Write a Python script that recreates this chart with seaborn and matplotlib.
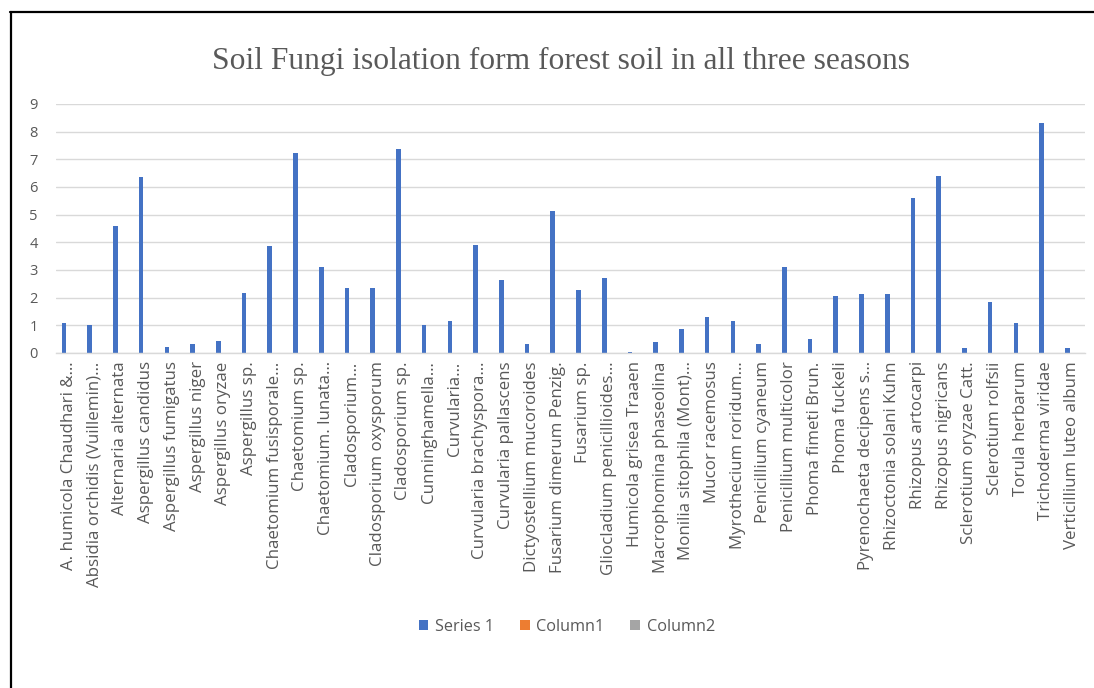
import matplotlib
matplotlib.use("Agg")
import matplotlib.pyplot as plt
from matplotlib.lines import Line2D
from matplotlib.patches import Patch
import numpy as np
import pandas as pd
import seaborn as sns

# Fungal species isolated from forest soil
fungi = [
    "A. humicola Chaudhari &…",
    "Absidia orchidis (Vuillemin)…",
    "Alternaria alternata",
    "Aspergillus candidus",
    "Aspergillus fumigatus",
    "Aspergillus niger",
    "Aspergillus oryzae",
    "Aspergillus sp.",
    "Chaetomium fusisporale…",
    "Chaetomium sp.",
    "Chaetomium. lunata…",
    "Cladosporium…",
    "Cladosporium oxysporum",
    "Cladosporium sp.",
    "Cunninghamella…",
    "Curvularia…",
    "Curvularia brachyspora…",
    "Curvularia pallascens",
    "Dictyostellium mucoroides",
    "Fusarium dimerum Penzig.",
    "Fusarium sp.",
    "Gliocladium penicillioides…",
    "Humicola grisea Traaen",
    "Macrophomina phaseolina",
    "Monilia sitophila (Mont)…",
    "Mucor racemosus",
    "Myrothecium roridum…",
    "Penicillium cyaneum",
    "Penicillium multicolor",
    "Phoma fimeti Brun.",
    "Phoma fuckeli",
    "Pyrenochaeta decipens s…",
    "Rhizoctonia solani Kuhn",
    "Rhizopus artocarpi",
    "Rhizopus nigricans",
    "Sclerotium oryzae Catt.",
    "Sclerotium rolfsii",
    "Torula herbarum",
    "Trichoderma viridae",
    "Verticillium luteo album",
]

series_1 = [
    1.10, 1.00, 4.57, 6.35, 0.20, 0.32, 0.42, 2.15, 3.85, 7.21,
    3.12, 2.33, 2.33, 7.36, 1.00, 1.17, 3.90, 2.63, 0.31, 5.12,
    2.27, 2.70, 0.05, 0.38, 0.88, 1.29, 1.17, 0.32, 3.12, 0.49,
    2.07, 2.14, 2.14, 5.61, 6.39, 0.19, 1.85, 1.10, 8.30, 0.19,
]
# The two extra columns hold no values
column_1 = [np.nan] * len(fungi)
column_2 = [np.nan] * len(fungi)

series_names = ["Series 1", "Column1", "Column2"]
series_colors = ["#4472C4", "#ED7D31", "#A5A5A5"]
y_ticks = [0, 1, 2, 3, 4, 5, 6, 7, 8, 9]

df = pd.concat([
    pd.DataFrame({"fungus": fungi, "value": vals, "series": name})
    for name, vals in zip(series_names, [series_1, column_1, column_2])
], ignore_index=True)

sns.set_theme(style="white")
plt.rcParams["font.family"] = ["Open Sans", "DejaVu Sans"]

text_gray = "#595959"
grid_gray = "#D9D9D9"

fig = plt.figure(figsize=(10.94, 6.88), dpi=100)
ax = fig.add_axes([0.0512, 0.487, 0.9406, 0.362])

sns.barplot(
    data=df, x="fungus", y="value", hue="series",
    order=fungi, hue_order=series_names, palette=series_colors,
    saturation=1, width=0.57, gap=0.05, dodge=True, linewidth=0,
    errorbar=None, legend=False, ax=ax,
)

ax.set_ylim(0, 9)
ax.set_xlim(-0.5, len(fungi) - 0.5)
ax.set_yticks(y_ticks)
ax.set_yticklabels([str(t) for t in y_ticks])
ax.yaxis.grid(True, color=grid_gray, linewidth=1.0)
ax.set_axisbelow(True)
for side in ["left", "right", "top"]:
    ax.spines[side].set_visible(False)
ax.spines["bottom"].set_color(grid_gray)
ax.spines["bottom"].set_linewidth(1.0)
ax.set_xlabel("")
ax.set_ylabel("")
ax.tick_params(axis="x", length=0, pad=6, labelsize=12.2, labelcolor=text_gray, labelrotation=90)
ax.tick_params(axis="y", length=0, pad=13, labelsize=10.5, labelcolor=text_gray)

fig.text(0.513, 0.910, "Soil Fungi isolation form forest soil in all three seasons",
         ha="center", va="center", fontsize=22.7, color=text_gray,
         family=["Liberation Serif", "DejaVu Serif"])

handles = [Patch(facecolor=c, edgecolor="none") for c in series_colors]
fig.legend(handles, series_names, loc="center", bbox_to_anchor=(0.518, 0.089),
           ncol=3, frameon=False, fontsize=11.7, labelcolor=text_gray,
           handlelength=0.6, handleheight=0.6, handletextpad=0.4, columnspacing=1.6)

# Frame lines along the left and top edges
fig.add_artist(Line2D([0.0100, 0.0100], [0.0, 0.9826], transform=fig.transFigure,
                      color="black", linewidth=1.6))
fig.add_artist(Line2D([0.0093, 1.0], [0.9826, 0.9826], transform=fig.transFigure,
                      color="black", linewidth=1.6))

fig.savefig("out.png", dpi=100)
